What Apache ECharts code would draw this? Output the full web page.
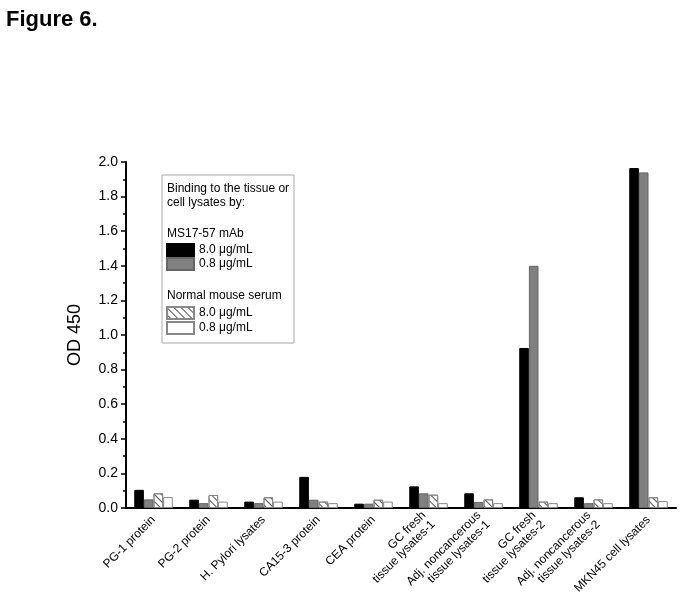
<!DOCTYPE html>
<html>
<head>
<meta charset="utf-8">
<script src="https://cdn.jsdelivr.net/npm/echarts@6/dist/echarts.min.js"></script>
<style>
  html, body { margin: 0; padding: 0; background: #fff; }
  #chart { width: 683px; height: 604px; }
</style>
</head>
<body>
<div id="chart"></div>
<script>
const categories = [
  'PG-1 protein',
  'PG-2 protein',
  'H. Pylori lysates',
  'CA15-3 protein',
  'CEA protein',
  'GC fresh\ntissue lysates-1',
  'Adj. noncancerous\ntissue lysates-1',
  'GC fresh\ntissue lysates-2',
  'Adj. noncancerous\ntissue lysates-2',
  'MKN45 cell lysates'
];
// MS17-57 mAb
const mab8 = [0.105, 0.048, 0.037, 0.18, 0.025, 0.125, 0.085, 0.925, 0.062, 1.965];
const mab08 = [0.05, 0.028, 0.028, 0.048, 0.025, 0.085, 0.035, 1.40, 0.028, 1.94];
// Normal mouse serum
const nms8 = [0.085, 0.075, 0.062, 0.037, 0.048, 0.077, 0.05, 0.037, 0.05, 0.062];
const nms08 = [0.063, 0.037, 0.037, 0.028, 0.037, 0.028, 0.028, 0.028, 0.028, 0.04];

const FONT = 'Arial, "Liberation Sans", sans-serif';

const chart = echarts.init(document.getElementById('chart'));

const hatch = {
  symbol: 'rect',
  symbolSize: 1,
  color: '#555',
  dashArrayX: [1, 0],
  dashArrayY: [1, 4],
  rotation: Math.PI / 4
};

const legendItem = (name, top, label) => ({
  left: 166,
  top: top,
  padding: 0,
  icon: 'rect',
  itemWidth: 27,
  itemHeight: 12,
  selectedMode: false,
  data: [name],
  formatter: () => label,
  textStyle: { fontFamily: FONT, fontSize: 12, color: '#000' },
  z: 12
});

const options = {
  backgroundColor: '#fff',
  animation: false,
  title: {
    text: 'Figure 6.',
    left: 1,
    top: 4,
    textStyle: { fontFamily: FONT, fontSize: 22, fontWeight: 'bold', color: '#000' }
  },
  graphic: [
    {
      type: 'rect',
      shape: { x: 162, y: 175, width: 132, height: 168 },
      style: { fill: '#fff', stroke: '#aaa', lineWidth: 1 },
      z: 10
    },
    {
      type: 'text',
      left: 167,
      top: 182,
      z: 11,
      style: { text: 'Binding to the tissue or\ncell lysates by:', font: '12px ' + FONT, fill: '#000', lineHeight: 14 }
    },
    {
      type: 'text',
      left: 167,
      top: 228,
      z: 11,
      style: { text: 'MS17-57 mAb', font: '12px ' + FONT, fill: '#000' }
    },
    {
      type: 'text',
      left: 167,
      top: 290,
      z: 11,
      style: { text: 'Normal mouse serum', font: '12px ' + FONT, fill: '#000' }
    }
  ],
  legend: [
    legendItem('mab8', 243, '8.0 μg/mL'),
    legendItem('mab08', 257, '0.8 μg/mL'),
    legendItem('nms8', 306, '8.0 μg/mL'),
    legendItem('nms08', 321, '0.8 μg/mL')
  ],
  grid: {
    left: 126,
    right: 7,
    top: 162,
    bottom: 96
  },
  xAxis: {
    type: 'category',
    data: categories,
    axisLine: { lineStyle: { color: '#000', width: 2 } },
    axisTick: { alignWithLabel: true, length: 5, lineStyle: { color: '#000', width: 2 } },
    axisLabel: {
      rotate: 45,
      interval: 0,
      margin: 10,
      fontFamily: FONT,
      fontSize: 12,
      color: '#000',
      lineHeight: 13
    }
  },
  yAxis: {
    type: 'value',
    min: 0,
    max: 2.0,
    interval: 0.2,
    name: 'OD 450',
    nameLocation: 'middle',
    nameGap: 42,
    nameTextStyle: { fontFamily: FONT, fontSize: 18, color: '#000' },
    axisLine: { show: true, lineStyle: { color: '#000', width: 2 } },
    axisTick: { show: true, length: 5, lineStyle: { color: '#000', width: 1.5 } },
    minorTick: { show: true, splitNumber: 2, length: 3, lineStyle: { color: '#000', width: 1.5 } },
    splitLine: { show: false },
    axisLabel: {
      fontFamily: FONT,
      fontSize: 14,
      color: '#000',
      margin: 8,
      formatter: v => v.toFixed(1)
    }
  },
  series: [
    {
      name: 'mab8', type: 'bar', data: mab8, barGap: '0%', barCategoryGap: '30%',
      itemStyle: { color: '#000', borderColor: '#000', borderWidth: 1 }
    },
    {
      name: 'mab08', type: 'bar', data: mab08, barGap: '0%', barCategoryGap: '30%',
      itemStyle: { color: '#808080', borderColor: '#666', borderWidth: 1 }
    },
    {
      name: 'nms8', type: 'bar', data: nms8, barGap: '0%', barCategoryGap: '30%',
      itemStyle: { color: '#fff', borderColor: '#888', borderWidth: 1, decal: hatch }
    },
    {
      name: 'nms08', type: 'bar', data: nms08, barGap: '0%', barCategoryGap: '30%',
      itemStyle: { color: '#fff', borderColor: '#888', borderWidth: 1 }
    }
  ]
};

chart.setOption(options);
</script>
</body>
</html>
